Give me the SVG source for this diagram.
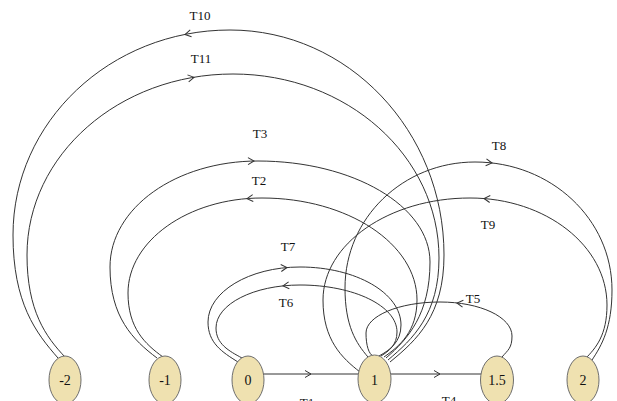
<svg xmlns="http://www.w3.org/2000/svg" xmlns:xlink="http://www.w3.org/1999/xlink" width="617" height="401" viewBox="0 0 617 401">
  <style>
    .edge { fill: none; stroke: #333; stroke-width: 1; }
    .head { fill: none; stroke: #333; stroke-width: 1; }
    .node ellipse { fill: #efe1b0; stroke: #6e6e6e; stroke-width: 1; }
    text { font-family: "Liberation Serif", "Times New Roman", serif; font-size: 13px; fill: #111; text-anchor: middle; }
    .node text { font-size: 14px; }
  </style>
  <defs>
    <!-- open chevron arrowhead, tip at origin, pointing along +x -->
    <path id="ah" d="M-6,-3.5 L0,0 L-6,3.5"/>
  </defs>
  <rect width="617" height="401" fill="#ffffff"/>

  <g id="connectors">
    <!-- T1 / T4 straight transitions -->
    <path class="edge" d="M262,374 L360,374"/>
    <path class="edge" d="M390,374 L482,374"/>
    <!-- T10: 1 to -2 -->
    <path class="edge" d="M390,362 C417,340 444,315 444,255 C444,131 348,30 230,30 C110,30 13,122 13,235 C13,303 36,333 58,358"/>
    <!-- T11: -2 to 1 -->
    <path class="edge" d="M65,357 C46,337 27,311 27,255 C27,155 119,74 233,74 C347,74 439,156 439,258 C439,314 413,339 388,360"/>
    <!-- T3: -1 to 1 -->
    <path class="edge" d="M157,358 C133,340 110,317 110,267 C110,208 176,161 258,161 C353,161 430,206 430,262 C430,314 408,339 386,358"/>
    <!-- T2: 1 to -1 -->
    <path class="edge" d="M384,357 C400,346 417,331 417,300 C417,244 348,198 262,198 C188,198 128,241 128,293 C128,328 145,344 163,357"/>
    <!-- T7: 0 to 1 -->
    <path class="edge" d="M238,362 C222,352 208,343 208,322 C208,292 249,267 300,267 C356,267 401,293 401,325 C401,342 390,350 379,356"/>
    <!-- T6: 1 to 0 -->
    <path class="edge" d="M381,356 C389,351 397,345 397,332 C397,306 354,285 300,285 C254,285 216,304 216,328 C216,344 229,351 242,358"/>
    <!-- T8: 1 to 2 -->
    <path class="edge" d="M368,357 C356,343 345,326 345,288 C345,218 403,162 475,162 C551,162 612,219 612,290 C612,327 602,345 592,360"/>
    <!-- T9: 2 to 1 -->
    <path class="edge" d="M585,359 C596,348 607,335 607,305 C607,246 546,198 470,198 C389,198 323,244 323,300 C323,340 342,358 360,372"/>
    <!-- T5: 1.5 to 1 -->
    <path class="edge" d="M502,357 C508,350 512,348 512,336 C512,317 480,302 440,302 C399,302 366,316 366,333 C366,346 369,354 373,356"/>

    <!-- arrowheads -->
    <use class="head" xlink:href="#ah" href="#ah" transform="translate(311,374)"/>
    <use class="head" xlink:href="#ah" href="#ah" transform="translate(440,374)"/>
    <use class="head" xlink:href="#ah" href="#ah" transform="translate(185,34.5) rotate(169)"/>
    <use class="head" xlink:href="#ah" href="#ah" transform="translate(194,77.3) rotate(-10)"/>
    <use class="head" xlink:href="#ah" href="#ah" transform="translate(254,161) rotate(-1)"/>
    <use class="head" xlink:href="#ah" href="#ah" transform="translate(247,198.6) rotate(175)"/>
    <use class="head" xlink:href="#ah" href="#ah" transform="translate(287,267.5) rotate(-5)"/>
    <use class="head" xlink:href="#ah" href="#ah" transform="translate(283,285.9) rotate(174)"/>
    <use class="head" xlink:href="#ah" href="#ah" transform="translate(492,163) rotate(7)"/>
    <use class="head" xlink:href="#ah" href="#ah" transform="translate(484,198.5) rotate(185)"/>
    <use class="head" xlink:href="#ah" href="#ah" transform="translate(457,303) rotate(187)"/>
  </g>

  <g id="labels">
    <text x="200" y="20">T10</text>
    <text x="201" y="63">T11</text>
    <text x="260" y="138">T3</text>
    <text x="259" y="185">T2</text>
    <text x="288" y="251">T7</text>
    <text x="286" y="307">T6</text>
    <text x="499" y="150">T8</text>
    <text x="488" y="229">T9</text>
    <text x="473" y="303">T5</text>
    <text x="307" y="407">T1</text>
    <text x="449" y="405">T4</text>
  </g>

  <g id="node-m2" class="node"><ellipse cx="65" cy="380" rx="16" ry="24"/><text x="65" y="385">-2</text></g>
  <g id="node-m1" class="node"><ellipse cx="165" cy="380" rx="16" ry="24"/><text x="165" y="385">-1</text></g>
  <g id="node-0" class="node"><ellipse cx="248" cy="380" rx="16" ry="24"/><text x="248" y="385">0</text></g>
  <g id="node-1" class="node"><ellipse cx="374.5" cy="379" rx="16.5" ry="24"/><text x="374.5" y="385">1</text></g>
  <g id="node-1-5" class="node"><ellipse cx="497" cy="380" rx="16.5" ry="24"/><text x="497" y="385">1.5</text></g>
  <g id="node-2" class="node"><ellipse cx="583" cy="380" rx="16" ry="24"/><text x="583" y="385">2</text></g>
</svg>
